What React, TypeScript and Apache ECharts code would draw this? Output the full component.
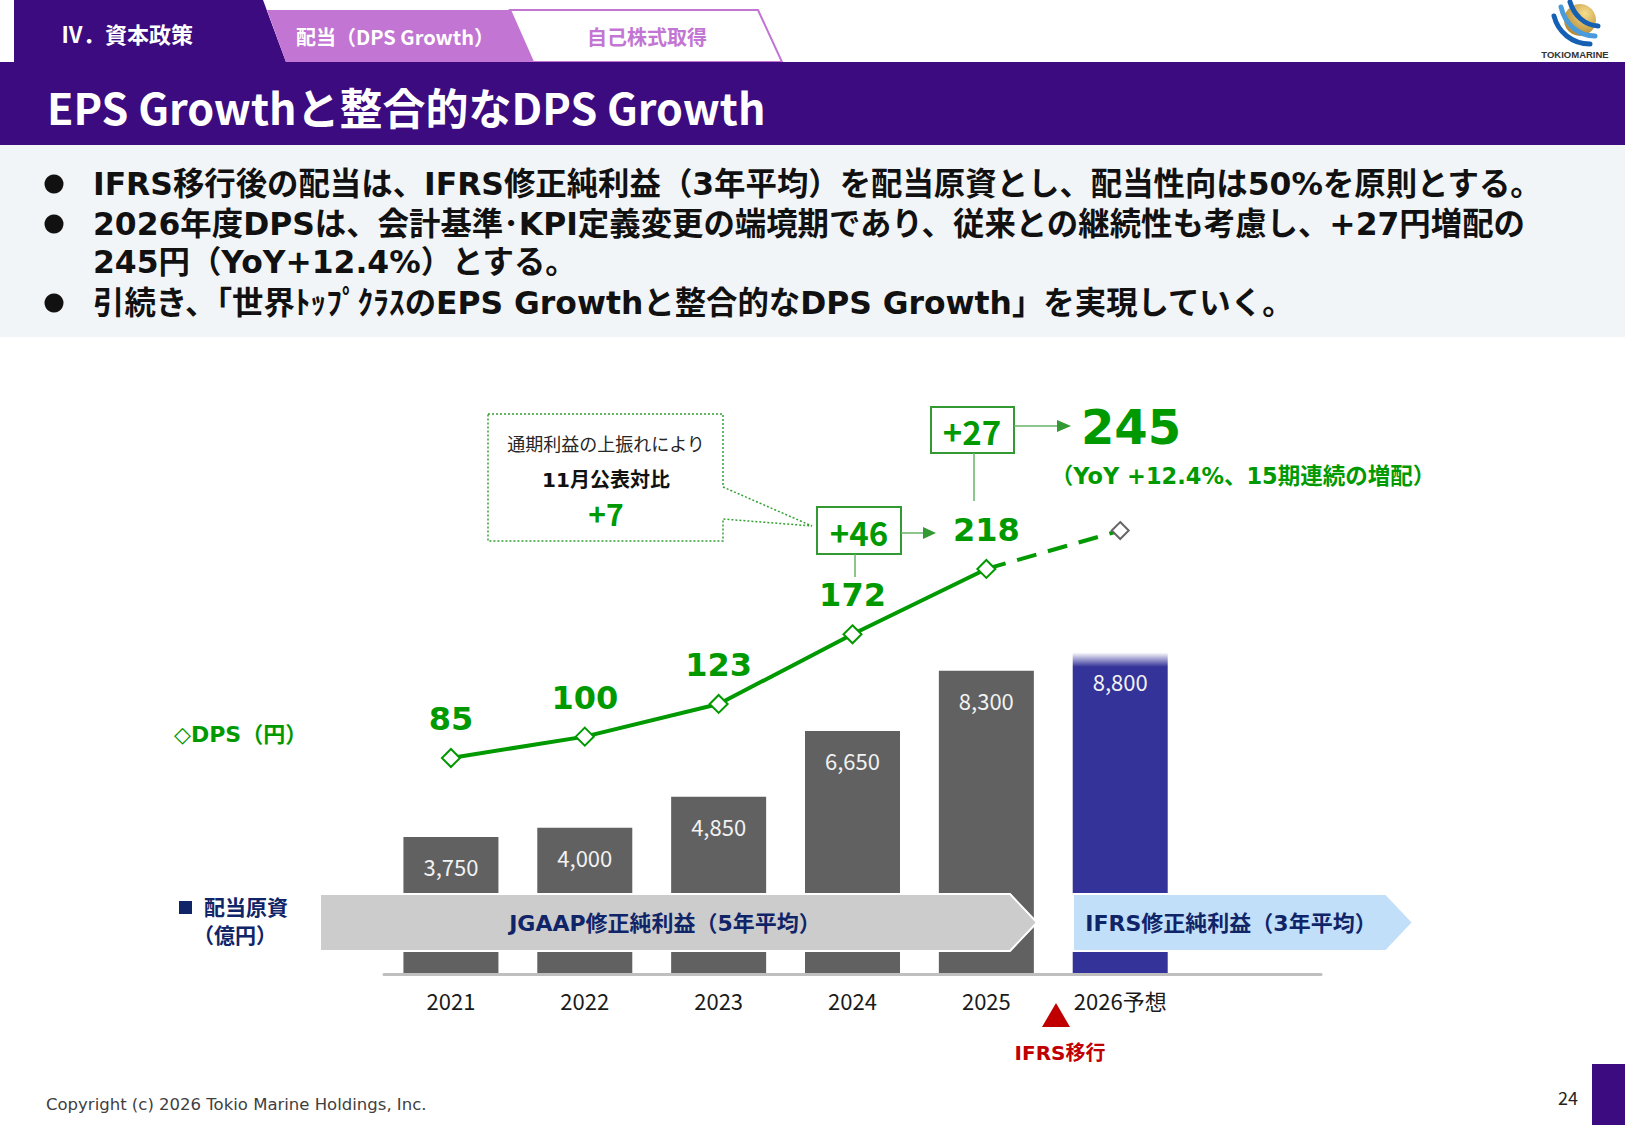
import React, { useEffect, useRef } from 'react';
import * as echarts from 'echarts';

// ---------- data ----------
const categories = ['2021', '2022', '2023', '2024', '2025', '2026予想', ''];
const fundValues = [3750, 4000, 4850, 6650, 8300, 8800];
const dpsActual = [85, 100, 123, 172, 218];
const dpsForecast = 245;
const bulletLines = [
  'IFRS移行後の配当は、IFRS修正純利益（3年平均）を配当原資とし、配当性向は50%を原則とする。',
  '2026年度DPSは、会計基準･KPI定義変更の端境期であり、従来との継続性も考慮し、+27円増配の',
  '245円（YoY+12.4%）とする。',
  '引続き、「世界ﾄｯﾌﾟｸﾗｽのEPS Growthと整合的なDPS Growth」を実現していく。',
];
const bulletHasDot = [true, true, false, true];

const JP = "'Noto Sans CJK JP', sans-serif";
const NUM = "'DejaVu Sans', 'Noto Sans CJK JP', sans-serif";
const PURPLE = '#3C0B7F';
const PINK = '#C275D3';
const GREEN = '#009900';
const BOXGREEN = '#339933';
const NAVY = '#102468';

type TOpts = { family?: string; weight?: string; align?: string; valign?: string; z?: number };
const txt = (x: number, y: number, text: string, size: number, color: string, o: TOpts = {}) => ({
  type: 'text',
  x,
  y,
  z: o.z ?? 50,
  silent: true,
  style: {
    text,
    fill: color,
    fontSize: size,
    fontFamily: o.family ?? JP,
    fontWeight: o.weight ?? 'bold',
    align: o.align ?? 'left',
    textAlign: o.align ?? 'left',
    verticalAlign: o.valign ?? 'middle',
    textVerticalAlign: o.valign ?? 'middle',
  },
});
const poly = (points: number[][], style: any, z = 40) => ({ type: 'polygon', z, silent: true, shape: { points }, style });
const rect = (x: number, y: number, width: number, height: number, style: any, z = 40) => ({
  type: 'rect', z, silent: true, shape: { x, y, width, height }, style,
});
const line = (x1: number, y1: number, x2: number, y2: number, style: any, z = 40) => ({
  type: 'line', z, silent: true, shape: { x1, y1, x2, y2 }, style,
});

function buildGraphic() {
  const els: any[] = [];
  // header tabs
  els.push(poly([[14, 0], [263, 0], [286, 62], [14, 62]], { fill: PURPLE }));
  els.push(poly([[267, 10], [510, 10], [533, 62], [286, 62]], { fill: PINK }));
  els.push(poly([[510, 10], [758, 10], [782, 62], [533, 62]], { fill: '#fff', stroke: PINK, lineWidth: 2 }));
  els.push(txt(127, 33, 'Ⅳ．資本政策', 22, '#fff', { align: 'center' }));
  els.push(txt(395, 36, '配当（DPS Growth）', 20, '#fff', { align: 'center' }));
  els.push(txt(647, 36, '自己株式取得', 20, PINK, { align: 'center' }));
  // title bar
  els.push(rect(0, 62, 1625, 83, { fill: PURPLE }));
  els.push(txt(47, 106, 'EPS Growthと整合的なDPS Growth', 43, '#fff'));
  // bullets area
  els.push(rect(0, 145, 1625, 192, { fill: '#F2F5F7' }));
  const ys = [184, 224, 262, 303];
  bulletLines.forEach((t, i) => {
    if (bulletHasDot[i]) els.push({ type: 'circle', z: 45, silent: true, shape: { cx: 54, cy: ys[i], r: 9.5 }, style: { fill: '#111' } });
    els.push(txt(93, ys[i], t, 31.4, '#111', { family: NUM }));
  });
  // logo
  els.push({
    type: 'circle', z: 45, silent: true, shape: { cx: 1580, cy: 20, r: 16 },
    style: { fill: { type: 'radial', x: 0.65, y: 0.3, r: 0.8, colorStops: [{ offset: 0, color: '#F6DE8E' }, { offset: 1, color: '#B07F26' }] } },
  });
  const stripes = [
    [1554, 16, 1558, 32, 1572, 44, 1590, 44],
    [1561, 7, 1565, 24, 1578, 36, 1595, 36],
    [1570, 2, 1574, 15, 1584, 25, 1598, 26],
  ];
  stripes.forEach((s, i) => {
    els.push({
      type: 'bezierCurve', z: 46, silent: true,
      shape: { x1: s[0], y1: s[1], cpx1: s[2], cpy1: s[3], cpx2: s[4], cpy2: s[5], x2: s[6], y2: s[7] },
      style: { stroke: i === 1 ? '#4A9BDB' : '#1660B3', lineWidth: 5, lineCap: 'round', fill: 'none' },
    });
  });
  els.push(txt(1575, 54, 'TOKIOMARINE', 9.5, '#333', { family: "'Liberation Sans', sans-serif", align: 'center' }));

  // callout
  els.push(poly([[488, 414], [723, 414], [723, 487], [812, 526], [723, 519], [723, 541], [488, 541]],
    { fill: '#fff', stroke: '#33A033', lineWidth: 1.5, lineDash: [2, 2] }));
  els.push(txt(606, 443, '通期利益の上振れにより', 18, '#262626', { align: 'center', weight: 'normal' }));
  els.push(txt(606, 480, '11月公表対比', 20, '#111', { align: 'center', family: NUM }));
  els.push(txt(606, 513, '+7', 30, GREEN, { align: 'center' }));

  // +46 box
  els.push(rect(817, 507, 84, 47, { fill: '#fff', stroke: BOXGREEN, lineWidth: 2 }));
  els.push(txt(859, 532, '+46', 33, GREEN, { align: 'center' }));
  els.push(line(855, 554, 855, 577, { stroke: '#66B366', lineWidth: 1.5 }));
  els.push(line(901, 533, 925, 533, { stroke: '#66B366', lineWidth: 1.5 }));
  els.push(poly([[923, 527], [936, 533], [923, 539]], { fill: BOXGREEN }));

  // +27 box
  els.push(rect(931, 407, 83, 46, { fill: '#fff', stroke: BOXGREEN, lineWidth: 2 }));
  els.push(txt(972, 431, '+27', 33, GREEN, { align: 'center' }));
  els.push(line(974, 453, 974, 501, { stroke: '#66B366', lineWidth: 1.5 }));
  els.push(line(1014, 426, 1058, 426, { stroke: '#66B366', lineWidth: 1.5 }));
  els.push(poly([[1057, 420], [1071, 426], [1057, 432]], { fill: BOXGREEN }));
  els.push(txt(1131, 427, String(dpsForecast), 48, GREEN, { align: 'center', family: NUM }));
  els.push(txt(1243, 476, '（YoY +12.4%、15期連続の増配）', 22.5, GREEN, { align: 'center', family: NUM }));

  // legends on left
  els.push(txt(174, 734, '◇DPS（円）', 22, GREEN, { family: NUM }));
  els.push(rect(179, 901, 13, 13, { fill: NAVY }));
  els.push(txt(204, 906, '配当原資', 21, NAVY));
  els.push(txt(193, 934, '（億円）', 21, NAVY));

  // basis bands
  els.push(poly([[320, 894], [1010, 894], [1037, 922.5], [1010, 951], [320, 951]], { fill: '#CCCCCC', stroke: '#fff', lineWidth: 2 }, 20));
  els.push(txt(665, 923, 'JGAAP修正純利益（5年平均）', 22, NAVY, { align: 'center', family: NUM, z: 21 }));
  els.push(poly([[1073, 894], [1386, 894], [1413, 922.5], [1386, 951], [1073, 951]], { fill: '#C2DFFA', stroke: '#fff', lineWidth: 2 }, 20));
  els.push(txt(1231, 923, 'IFRS修正純利益（3年平均）', 22, NAVY, { align: 'center', family: NUM, z: 21 }));

  // IFRS transition marker
  els.push(poly([[1056, 1003], [1070, 1027], [1042, 1027]], { fill: '#C00000' }));
  els.push(txt(1060, 1053, 'IFRS移行', 20, '#C00000', { align: 'center', family: NUM }));

  // footer
  els.push(txt(46, 1104, 'Copyright (c) 2026 Tokio Marine Holdings, Inc.', 16.5, '#404040', { weight: 'normal', family: NUM }));
  els.push(txt(1568, 1097, '24', 18, '#222', { align: 'center', weight: 'normal' }));
  els.push(rect(1592, 1064, 33, 61, { fill: PURPLE }));
  return els;
}

function buildOption() {
  const barData = fundValues.map((v, i) =>
    i < 5
      ? { value: v, itemStyle: { color: '#616161' } }
      : {
          value: v,
          itemStyle: {
            color: {
              type: 'linear', x: 0, y: 0, x2: 0, y2: 1,
              colorStops: [
                { offset: 0, color: 'rgba(52,51,153,0)' },
                { offset: 0.045, color: '#343399' },
                { offset: 1, color: '#343399' },
              ],
            },
          },
        }
  );
  const solid = categories.map((_, i) => (i < dpsActual.length ? dpsActual[i] : '-'));
  const dashed = categories.map((_, i) =>
    i === dpsActual.length - 1
      ? { value: dpsActual[i], symbol: 'none' }
      : i === dpsActual.length
      ? { value: dpsForecast }
      : '-'
  );
  return {
    animation: false,
    backgroundColor: '#fff',
    grid: { left: 384, top: 360, width: 937, height: 614 },
    xAxis: {
      type: 'category',
      data: categories,
      axisLine: { lineStyle: { color: '#BFBFBF', width: 3 } },
      axisTick: { show: false },
      axisLabel: { fontSize: 22, color: '#1A1A1A', fontFamily: JP, margin: 15, interval: 0 },
      z: 3,
    },
    yAxis: [
      { type: 'value', min: 0, max: 16800, show: false, splitLine: { show: false } },
      { type: 'value', min: -67, max: 365, show: false, splitLine: { show: false } },
    ],
    series: [
      {
        type: 'bar',
        yAxisIndex: 0,
        data: barData,
        barWidth: 95,
        z: 2,
        label: {
          show: true,
          position: 'insideTop',
          distance: 18,
          color: '#F2F2F2',
          fontSize: 22,
          fontFamily: JP,
          formatter: (p: any) => Number(p.value).toLocaleString('en-US'),
        },
      },
      {
        type: 'line',
        yAxisIndex: 1,
        data: dashed,
        symbol: 'diamond',
        symbolSize: 17,
        showAllSymbol: true,
        z: 4,
        itemStyle: { color: '#fff', borderColor: '#666666', borderWidth: 2 },
        lineStyle: { color: GREEN, width: 4, type: [20, 12] },
      },
      {
        type: 'line',
        yAxisIndex: 1,
        data: solid,
        symbol: 'diamond',
        symbolSize: 18,
        showAllSymbol: true,
        z: 5,
        itemStyle: { color: '#fff', borderColor: GREEN, borderWidth: 2 },
        lineStyle: { color: GREEN, width: 4 },
        label: { show: true, position: 'top', distance: 13, color: GREEN, fontSize: 32, fontWeight: 'bold', fontFamily: NUM },
      },
    ],
    graphic: { elements: buildGraphic() },
  };
}

export default function App() {
  const ref = useRef<HTMLDivElement>(null);
  useEffect(() => {
    document.body.style.margin = '0';
    document.body.style.overflow = 'hidden';
    const chart = echarts.init(ref.current!, null, { renderer: 'svg' });
    chart.setOption(buildOption() as any);
    return () => chart.dispose();
  }, []);
  return (
    <div
      ref={ref}
      style={{ position: 'absolute', left: 0, top: 0, width: 1625, height: 1125, background: '#fff' }}
    />
  );
}
